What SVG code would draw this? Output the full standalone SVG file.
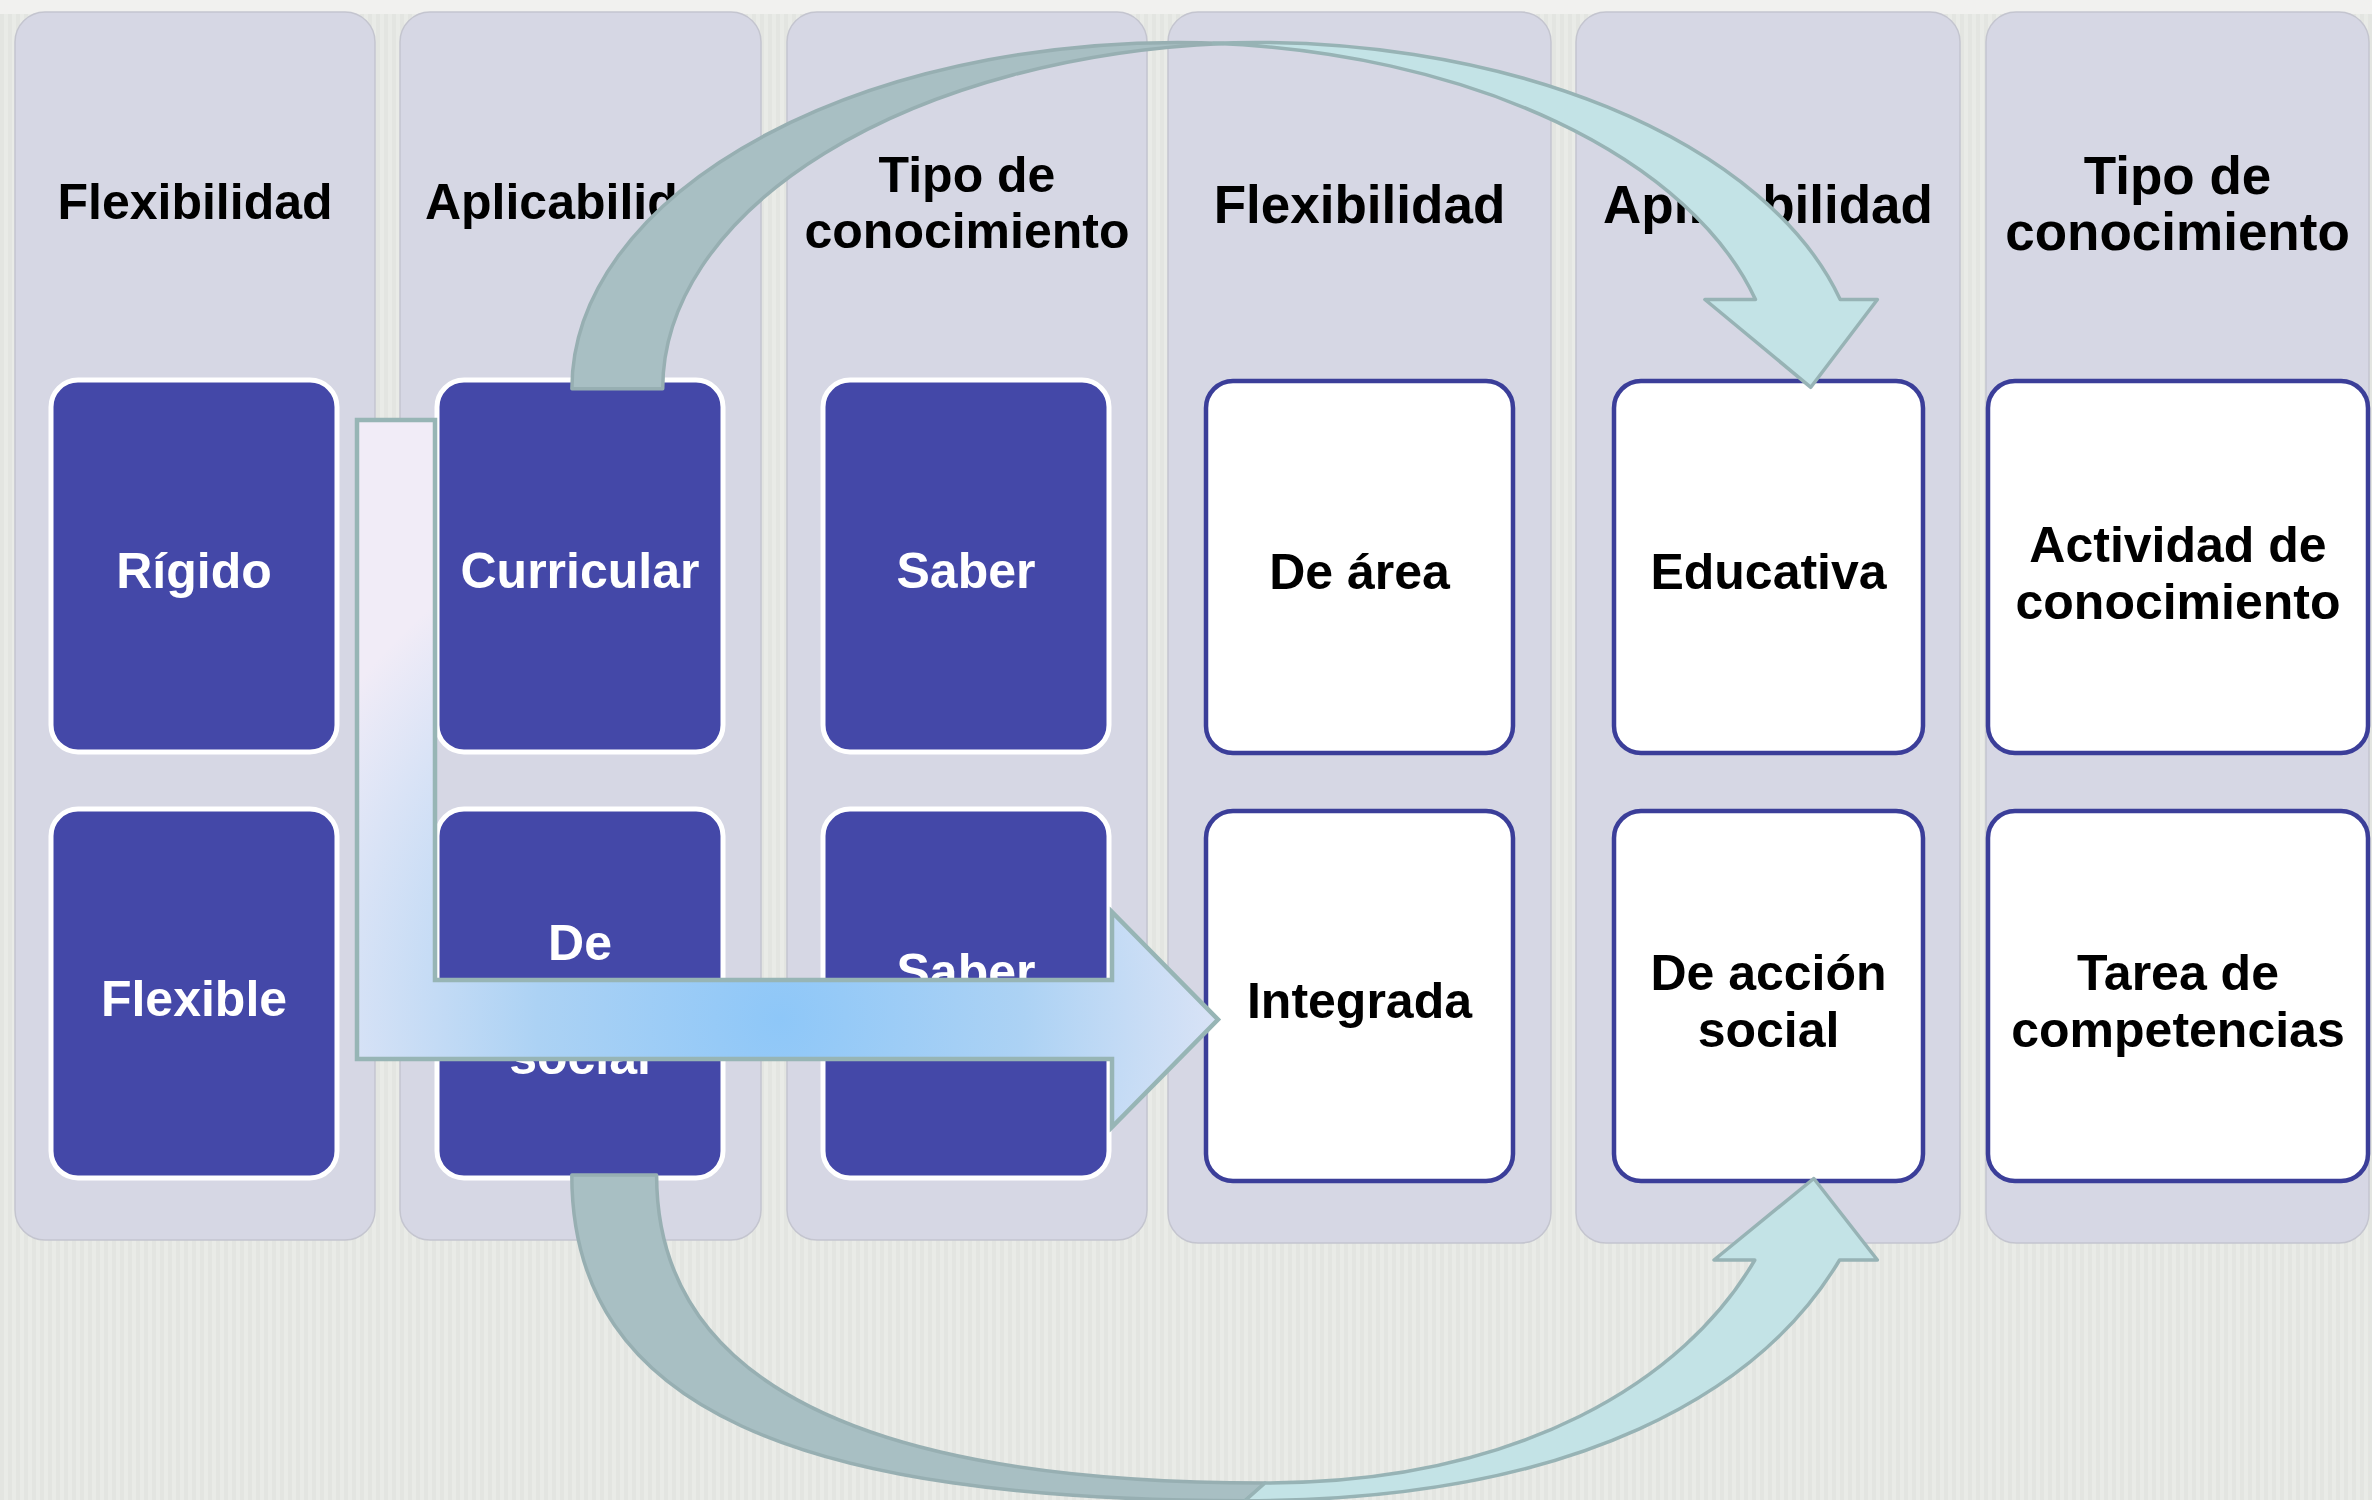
<svg xmlns="http://www.w3.org/2000/svg" width="2372" height="1500" viewBox="0 0 2372 1500">
<defs>
  <pattern id="tex" width="8" height="8" patternUnits="userSpaceOnUse">
    <rect width="8" height="8" fill="#e9ebe7"/>
    <rect width="4" height="8" fill="#e3e5e1"/>
  </pattern>
  <radialGradient id="lgrad" gradientUnits="userSpaceOnUse" cx="780" cy="1019" r="540">
    <stop offset="0" stop-color="#8ec7f8"/>
    <stop offset="0.45" stop-color="#acd2f4"/>
    <stop offset="1" stop-color="#f1ecf7"/>
  </radialGradient>
</defs>
<style>
  .panel{fill:#d6d7e4;stroke:#c4c5cf;stroke-width:1.5}
  .hdr{font-family:"Liberation Sans",Arial,Helvetica,sans-serif;font-weight:bold;fill:#000;text-anchor:middle}
  .hl{font-size:50px}
  .hr{font-size:53px}
  .dark{fill:#4448a8;stroke:#ffffff;stroke-width:5}
  .light{fill:#ffffff;stroke:#3b3e99;stroke-width:4.5}
  .t{font-family:"Liberation Sans",Arial,Helvetica,sans-serif;font-weight:bold;font-size:50px;text-anchor:middle}
  .tw{fill:#ffffff}
  .tb{fill:#000000}
  .back{fill:#a8bfc3;stroke:#97afb2;stroke-width:3.5;stroke-linejoin:round}
  .front{fill:#c3e3e6;stroke:#97b3b5;stroke-width:3.5;stroke-linejoin:round}
  .bent{fill:url(#lgrad);stroke:#97b5b5;stroke-width:4.5}
</style>

<rect x="0" y="0" width="2372" height="1500" fill="url(#tex)"/>
<rect x="0" y="0" width="2372" height="14" fill="#f1f1ef"/>

<g id="col1"><rect class="panel" x="15" y="12" width="360" height="1228" rx="30"/><text class="hdr hl" x="195" y="219">Flexibilidad</text></g>
<g id="col2"><rect class="panel" x="400" y="12" width="361" height="1228" rx="30"/><text class="hdr hl" x="580.5" y="219">Aplicabilidad</text></g>
<g id="col3"><rect class="panel" x="787" y="12" width="360" height="1228" rx="30"/><text class="hdr hl" x="967" y="192">Tipo de</text><text class="hdr hl" x="967" y="248">conocimiento</text></g>
<g id="col4"><rect class="panel" x="1168" y="12" width="383" height="1231" rx="30"/><text class="hdr hr" x="1359.5" y="223">Flexibilidad</text></g>
<g id="col5"><rect class="panel" x="1576" y="12" width="384" height="1231" rx="30"/><text class="hdr hr" x="1768" y="223">Aplicabilidad</text></g>
<g id="col6"><rect class="panel" x="1986" y="12" width="383" height="1231" rx="30"/><text class="hdr hr" x="2177.5" y="194">Tipo de</text><text class="hdr hr" x="2177.5" y="250">conocimiento</text></g>

<g id="n-rigido"><rect class="dark" x="51" y="380" width="286" height="372" rx="27"/><text class="t tw" x="194" y="588">Rígido</text></g>
<g id="n-curricular"><rect class="dark" x="437" y="380" width="286" height="372" rx="27"/><text class="t tw" x="580" y="588">Curricular</text></g>
<g id="n-saber"><rect class="dark" x="823" y="380" width="286" height="372" rx="27"/><text class="t tw" x="966" y="588">Saber</text></g>
<g id="n-flexible"><rect class="dark" x="51" y="809" width="286" height="369" rx="27"/><text class="t tw" x="194" y="1016">Flexible</text></g>
<g id="n-de-social"><rect class="dark" x="437" y="809" width="286" height="369" rx="27"/><text class="t tw" x="580" y="960">De</text><text class="t tw" x="580" y="1074">social</text></g>
<g id="n-saber2"><rect class="dark" x="823" y="809" width="286" height="369" rx="27"/><text class="t tw" x="966" y="989">Saber</text></g>

<g id="n-de-area"><rect class="light" x="1206" y="381" width="307" height="372" rx="27"/><text class="t tb" x="1359.5" y="589">De área</text></g>
<g id="n-educativa"><rect class="light" x="1614" y="381" width="309" height="372" rx="27"/><text class="t tb" x="1768.5" y="589">Educativa</text></g>
<g id="n-actividad"><rect class="light" x="1988" y="381" width="380" height="372" rx="27"/><text class="t tb" x="2178" y="562">Actividad de</text><text class="t tb" x="2178" y="619">conocimiento</text></g>
<g id="n-integrada"><rect class="light" x="1206" y="811" width="307" height="370" rx="27"/><text class="t tb" x="1359.5" y="1018">Integrada</text></g>
<g id="n-de-accion"><rect class="light" x="1614" y="811" width="309" height="370" rx="27"/><text class="t tb" x="1768.5" y="990">De acción</text><text class="t tb" x="1768.5" y="1047">social</text></g>
<g id="n-tarea"><rect class="light" x="1988" y="811" width="380" height="370" rx="27"/><text class="t tb" x="2178" y="990">Tarea de</text><text class="t tb" x="2178" y="1047">competencias</text></g>

<g id="connectors">
  <path id="bent-arrow" class="bent" d="M357 420 H435 V980 H1112 V912 L1218 1019.5 L1112 1127 V1059 H357 Z"/>
  <g id="top-arrow">
    <path class="back" d="M571.9 388.8 A606.6 346.4 0 0 1 1223.9 43.4 A606.6 346.4 0 0 0 662.7 388.8 Z"/>
    <path class="front" d="M1213.3 43.25 A605.1 346.4 0 0 1 1840.2 299.5 L1877.4 299.5 L1810.8 387.3 L1704.9 299.5 L1755.5 299.5 A605.1 346.4 0 0 0 1213.3 43.25 Z"/>
  </g>
  <g id="bottom-arrow">
    <path class="back" d="M571.8 1175 C571.8 1410 800 1500.7 1245 1500.7 L1265 1483 C860 1483 656.6 1380 656.6 1175 Z"/>
    <path class="front" d="M1245 1500.7 C1580 1500.7 1762 1390 1839.6 1260 L1877.4 1260 L1813.8 1178.5 L1714 1260 L1754.8 1260 C1685 1380 1520 1483 1265 1483 Z"/>
  </g>
</g>
</svg>
